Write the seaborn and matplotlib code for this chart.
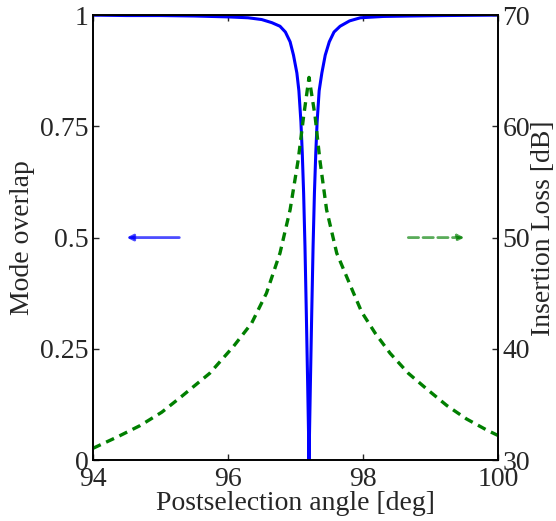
import matplotlib
matplotlib.use("Agg")
import matplotlib.pyplot as plt
import seaborn as sns
import pandas as pd

# Mode overlap (left axis)
overlap_angle = [94.0, 94.5, 95.0, 95.5, 96.0, 96.3, 96.5, 96.65, 96.77, 96.85,
                 96.92, 96.97, 97.02, 97.05, 97.08, 97.10, 97.12, 97.14, 97.16, 97.18,
                 97.2,
                 97.22, 97.24, 97.26, 97.28, 97.30, 97.32, 97.35, 97.39, 97.44, 97.50,
                 97.57, 97.66, 97.80, 97.96, 98.3, 98.7, 99.2, 100.0]
overlap_val = [1.0, 0.999, 0.999, 0.998, 0.996, 0.994, 0.99, 0.983, 0.975, 0.962,
               0.94, 0.91, 0.87, 0.83, 0.76, 0.69, 0.60, 0.48, 0.33, 0.17,
               0.0,
               0.17, 0.33, 0.48, 0.60, 0.69, 0.76, 0.83, 0.87, 0.91, 0.94,
               0.962, 0.975, 0.987, 0.994, 0.997, 0.998, 0.999, 1.0]

# Insertion loss (right axis, dB)
loss_angle = [94.0, 94.37, 94.70, 95.02, 95.31, 95.61, 95.73, 96.08, 96.35, 96.57,
              96.77, 96.92, 97.04, 97.12, 97.2, 97.29, 97.36, 97.46, 97.61, 97.86,
              97.98, 98.18, 98.40, 98.67, 98.94, 99.24, 99.53, 99.83, 100.0]
loss_db = [31.05, 32.1, 33.1, 34.3, 35.7, 37.2, 37.8, 40.2, 42.3, 45.0,
           48.6, 52.5, 57.0, 60.9, 64.4, 60.9, 57.0, 52.5, 48.6, 45.0,
           43.3, 41.4, 39.6, 37.8, 36.4, 34.9, 33.7, 32.7, 32.2]

x_ticks = [94, 96, 98, 100]
left_ticks = [0, 0.25, 0.5, 0.75, 1]
left_labels = ["0", "0.25", "0.5", "0.75", "1"]
right_ticks = [30, 40, 50, 60, 70]

sns.set_style("ticks")
plt.rcParams["font.family"] = ["Liberation Serif", "DejaVu Serif"]

fig = plt.figure(figsize=(5.56, 5.21), dpi=100)
ax = fig.add_axes([0.167, 0.117, 0.729, 0.854])

df1 = pd.DataFrame({"angle": overlap_angle, "overlap": overlap_val})
df2 = pd.DataFrame({"angle": loss_angle, "loss": loss_db})

sns.lineplot(data=df1, x="angle", y="overlap", ax=ax, color="#0000ff", lw=2.2,
             estimator=None, sort=False)
ax.set_xlim(94, 100)
ax.set_ylim(0, 1)
ax.set_xticks(x_ticks)
ax.set_xticklabels([str(t) for t in x_ticks])
ax.set_yticks(left_ticks)
ax.set_yticklabels(left_labels)
ax.set_xlabel("Postselection angle [deg]", fontsize=20, labelpad=-1)
ax.set_ylabel("Mode overlap", fontsize=20, labelpad=4)
ax.tick_params(axis="both", direction="in", length=4, width=1, labelsize=20,
               pad=3, top=True)
ax.tick_params(axis="x", pad=5)

ax2 = ax.twinx()
sns.lineplot(data=df2, x="angle", y="loss", ax=ax2, color="#007f00", lw=2.4,
             estimator=None, sort=False)
ax2.lines[0].set_dashes((2.6, 1.8))
ax2.set_ylim(30, 70)
ax2.set_yticks(right_ticks)
ax2.set_yticklabels([str(t) for t in right_ticks])
ax2.set_ylabel("Insertion Loss [dB]", fontsize=20)
ax2.yaxis.set_label_coords(1.08, 0.52)
ax2.tick_params(axis="y", direction="in", length=4, width=1, labelsize=20, pad=3)
ax2.set_xlim(94, 100)

for a in (ax, ax2):
    for s in a.spines.values():
        s.set_linewidth(1.2)
        s.set_color("black")

# direction arrows
ax.annotate("", xy=(94.5, 0.5), xytext=(95.28, 0.5),
            arrowprops=dict(arrowstyle="-|>", color="#0000ff", alpha=0.7,
                            lw=2.0, mutation_scale=9, shrinkA=0, shrinkB=0))
ax.annotate("", xy=(99.5, 0.5), xytext=(98.67, 0.5),
            arrowprops=dict(arrowstyle="-|>", color="#007f00", alpha=0.65,
                            lw=2.0, ls="--", mutation_scale=9, shrinkA=0, shrinkB=0))

fig.savefig("out.png", dpi=100)
